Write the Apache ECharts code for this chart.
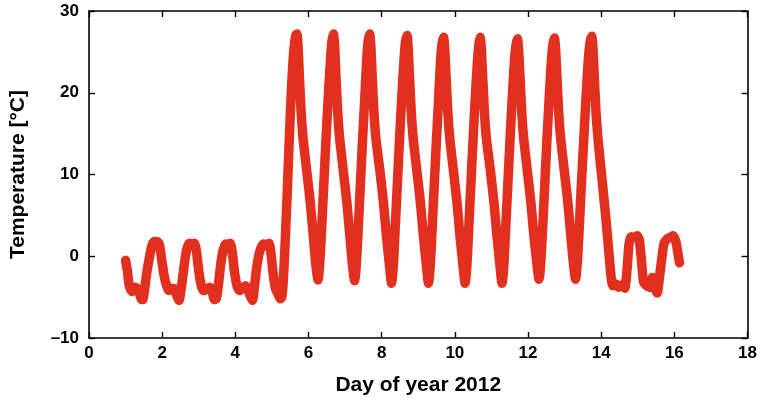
<!DOCTYPE html>
<html>
<head>
<meta charset="utf-8">
<script src="https://cdn.jsdelivr.net/npm/echarts@6/dist/echarts.min.js"></script>
<style>html,body{margin:0;padding:0;background:#fff;}#c{width:760px;height:403px;}</style>
</head>
<body>
<div id="c"></div>
<script>
var xTicks = [0, 2, 4, 6, 8, 10, 12, 14, 16, 18];
var yTicks = [-10, 0, 10, 20, 30];
var xAxisTitle = 'Day of year 2012';
var yAxisTitle = 'Temperature [°C]';

var days = [
  1.00,1.05,1.10,1.18,1.25,1.32,1.38,1.43,1.47,1.52,1.58,1.65,1.72,1.78,1.85,1.92,1.98,
  2.05,2.12,2.18,2.26,2.33,2.40,2.46,2.50,2.56,2.62,2.68,2.75,2.82,2.88,2.94,
  3.00,3.07,3.14,3.22,3.30,3.37,3.43,3.48,3.54,3.60,3.67,3.74,3.80,3.86,3.92,3.98,
  4.05,4.12,4.20,4.28,4.35,4.42,4.47,4.52,4.58,4.65,4.72,4.78,4.85,4.92,4.97,
  5.03,5.10,5.17,5.23,5.27,
  5.31,5.36,5.42,5.48,5.54,5.60,5.65,5.68,5.71,5.75,5.80,5.85,5.95,6.05,6.13,6.20,6.26,
  6.31,6.36,6.42,6.48,6.54,6.60,6.64,6.68,6.71,6.75,6.80,6.85,6.95,7.05,7.13,7.20,7.26,
  7.31,7.36,7.42,7.48,7.54,7.59,7.63,7.67,7.70,7.74,7.79,7.84,7.95,8.05,8.13,8.21,8.27,
  8.32,8.37,8.43,8.49,8.55,8.61,8.65,8.69,8.72,8.76,8.81,8.86,8.96,9.06,9.14,9.22,9.28,
  9.33,9.38,9.44,9.50,9.56,9.61,9.65,9.69,9.72,9.76,9.81,9.86,9.96,10.06,10.14,10.22,10.28,
  10.33,10.38,10.44,10.50,10.56,10.62,10.66,10.69,10.72,10.76,10.81,10.86,10.97,11.07,11.15,11.23,11.29,
  11.34,11.39,11.45,11.51,11.57,11.63,11.67,11.71,11.74,11.78,11.83,11.88,11.98,12.08,12.16,12.24,12.30,
  12.35,12.40,12.46,12.52,12.58,12.64,12.68,12.72,12.75,12.79,12.84,12.89,12.99,13.09,13.17,13.24,13.30,
  13.35,13.40,13.46,13.52,13.58,13.64,13.69,13.74,13.77,13.81,13.86,13.92,14.02,14.12,14.20,14.27,14.32,
  14.40,14.48,14.56,14.64,14.70,14.76,14.82,14.90,14.98,15.04,15.10,15.16,15.24,15.32,15.40,15.46,15.53,
  15.58,15.65,15.72,15.80,15.88,15.96,16.04,16.10,16.14
];
var temps = [
  -0.5,-1.8,-3.6,-4.3,-3.8,-4.0,-4.6,-5.2,-5.3,-4.0,-2.0,-0.2,1.3,1.8,1.8,1.5,-0.2,
  -2.3,-3.6,-4.2,-3.9,-4.0,-4.8,-5.4,-4.6,-2.6,-0.5,1.0,1.6,1.5,1.6,0.5,
  -1.8,-3.6,-4.2,-4.0,-3.8,-4.4,-5.3,-5.2,-3.4,-1.0,0.8,1.5,1.4,1.6,0.3,-2.0,
  -3.7,-4.2,-3.9,-3.6,-4.2,-5.0,-5.4,-3.8,-1.5,0.3,1.2,1.5,1.3,1.6,0.5,
  -2.0,-4.0,-4.6,-5.2,-5.0,
  -3.0,1.5,8.0,15.0,21.0,25.3,27.0,27.2,26.0,22.0,17.5,14.5,10.5,6.5,2.5,-1.0,-2.9,
  -0.6,3.5,9.0,14.5,19.5,24.0,26.3,27.2,26.0,22.0,17.5,14.5,10.5,6.5,2.5,-1.0,-3.0,
  -0.7,3.5,9.0,14.5,19.5,24.0,26.3,27.2,26.0,22.0,17.5,14.5,10.5,6.5,2.5,-1.0,-3.3,
  -1.0,3.5,9.0,14.5,19.5,24.0,26.2,27.0,25.8,22.0,17.5,14.5,10.5,6.5,2.5,-1.0,-3.3,
  -1.0,3.5,9.0,14.5,19.5,24.0,26.0,26.8,25.6,22.0,17.5,14.5,10.5,6.5,2.5,-1.0,-3.3,
  -1.0,3.5,9.0,14.5,19.5,24.0,26.0,26.8,25.6,22.0,17.5,14.5,10.5,6.5,2.5,-1.0,-3.3,
  -1.0,3.5,9.0,14.5,19.5,24.0,25.8,26.6,25.4,22.0,17.5,14.5,10.5,6.5,2.5,-0.8,-2.8,
  -0.6,3.5,9.0,14.5,19.5,24.0,25.9,26.7,25.5,22.0,17.5,14.5,10.5,6.5,2.5,-0.8,-2.8,
  -0.6,3.5,9.0,14.0,19.0,23.5,26.0,26.9,25.8,22.0,17.5,14.0,9.5,5.0,1.0,-2.5,-3.6,
  -3.4,-3.8,-3.5,-3.9,-2.0,1.5,2.4,2.3,2.5,2.0,-0.5,-3.2,-3.6,-3.8,-2.6,-3.8,-4.5,
  -3.0,-0.5,1.6,2.1,2.3,2.5,1.8,0.3,-0.8
];

var seriesData = days.map(function (d, i) { return [d, temps[i]]; });

var font = '"Liberation Sans", Arial, Helvetica, sans-serif';
var axisLineStyle = { color: '#000', width: 1.6 };

function baseX(pos, showLabel) {
  return {
    type: 'value', position: pos,
    min: xTicks[0], max: xTicks[xTicks.length - 1],
    interval: xTicks[1] - xTicks[0],
    axisLine: { show: true, onZero: false, lineStyle: axisLineStyle },
    axisTick: { show: true, inside: true, length: 6, lineStyle: { color: '#000', width: 1.4 } },
    axisLabel: { show: showLabel, margin: 7, color: '#000', fontFamily: font, fontWeight: 'bold', fontSize: 17 },
    splitLine: { show: false }
  };
}
function baseY(pos, showLabel) {
  return {
    type: 'value', position: pos,
    min: yTicks[0], max: yTicks[yTicks.length - 1],
    interval: yTicks[1] - yTicks[0],
    axisLine: { show: true, onZero: false, lineStyle: axisLineStyle },
    axisTick: { show: true, inside: true, length: 6, lineStyle: { color: '#000', width: 1.4 } },
    axisLabel: {
      show: showLabel, margin: 10, color: '#000', fontFamily: font, fontWeight: 'bold', fontSize: 17,
      formatter: function (v) { return v < 0 ? '\u2013' + Math.abs(v) : String(v); }
    },
    splitLine: { show: false }
  };
}

var xMain = baseX('bottom', true);
xMain.name = xAxisTitle;
xMain.nameLocation = 'middle';
xMain.nameGap = 37;
xMain.nameTextStyle = { color: '#000', fontFamily: font, fontWeight: 'bold', fontSize: 21 };
var yMain = baseY('left', true);
yMain.name = yAxisTitle;
yMain.nameLocation = 'middle';
yMain.nameGap = 60;
yMain.nameTextStyle = { color: '#000', fontFamily: font, fontWeight: 'bold', fontSize: 21 };

var chart = echarts.init(document.getElementById('c'), null, { renderer: 'canvas' });
chart.setOption({
  animation: false,
  backgroundColor: '#fff',
  grid: { left: 88, right: 12, top: 11, bottom: 65, containLabel: false },
  xAxis: [xMain, baseX('top', false)],
  yAxis: [yMain, baseY('right', false)],
  series: [{
    type: 'line',
    xAxisIndex: 0, yAxisIndex: 0,
    data: seriesData,
    showSymbol: false,
    smooth: 0.25,
    lineStyle: { color: '#e2301f', width: 9.5, cap: 'round', join: 'round' }
  }]
});
</script>
</body>
</html>
